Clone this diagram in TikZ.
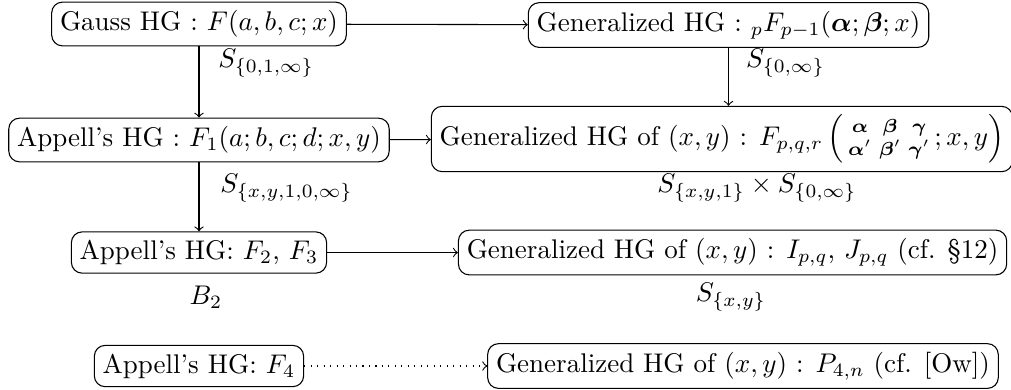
\documentclass[tikz,border=0pt]{standalone}
\usepackage{amsmath}
\usepackage{bm}
\usetikzlibrary{positioning}

\begin{document}
\begin{tikzpicture}[hgbox/.style={draw,rounded corners=4pt,inner sep=3.1pt},
  hglabel/.style={inner sep=1pt}]
\useasboundingbox (0,0) rectangle (13.164,-5.078);
% left column
\node[hgbox] (gauss) at (2.591,-0.3125) {Gauss HG : $F(a,b,c;x)$};
\node[hgbox] (appellone) at (2.591,-1.823) {Appell's HG : $F_1(a;b,c;d;x,y)$};
\node[hgbox] (appelltwo) at (2.591,-3.288) {Appell's HG: $F_2$, $F_3$};
\node[hgbox] (appellfour) at (2.591,-4.766) {Appell's HG: $F_4$};
% right column
\node[hgbox] (gen) at (9.486,-0.326) {Generalized HG : ${}_pF_{p-1}(\bm{\alpha};\bm{\beta};x)$};
\node[hgbox] (genxy) at (9.40,-1.810) {Generalized HG of $(x,y)$ : $F_{p,q,r}\left(\begin{smallmatrix}\bm{\alpha} & \bm{\beta} & \bm{\gamma}\\ \bm{\alpha}' & \bm{\beta}' & \bm{\gamma}'\end{smallmatrix};x,y\right)$};
\node[hgbox] (genij) at (9.538,-3.288) {Generalized HG of $(x,y)$ : $I_{p,q}$, $J_{p,q}$ (cf. \S12)};
\node[hgbox] (genp) at (9.674,-4.766) {Generalized HG of $(x,y)$ : $P_{4,n}$ (cf. [Ow])};

\draw[->] (gauss) -- (gen);
\draw[->] (appellone) -- (genxy);
\draw[->] (appelltwo) -- (genij);
\draw[->,dotted] (appellfour) -- (genp);
\draw[->] (gauss) -- (appellone);
\draw[->] (appellone) -- (appelltwo);
\draw[->] (gen.south) -- (gen.south |- genxy.north);

% symmetry groups
\node[hglabel,anchor=west] (sgauss) at (2.80,-0.82) {$S_{\{0,1,\infty\}}$};
\node[hglabel,anchor=west] (sgen) at (9.674,-0.82) {$S_{\{0,\infty\}}$};
\node[hglabel,anchor=west] (sappell) at (2.826,-2.448) {$S_{\{x,y,1,0,\infty\}}$};
\node[hglabel] (sgenxy) at (9.857,-2.448) {$S_{\{x,y,1\}}\times S_{\{0,\infty\}}$};
\node[hglabel] (btwo) at (2.682,-3.867) {$B_2$};
\node[hglabel] (sgenij) at (9.518,-3.867) {$S_{\{x,y\}}$};
\end{tikzpicture}
\end{document}
